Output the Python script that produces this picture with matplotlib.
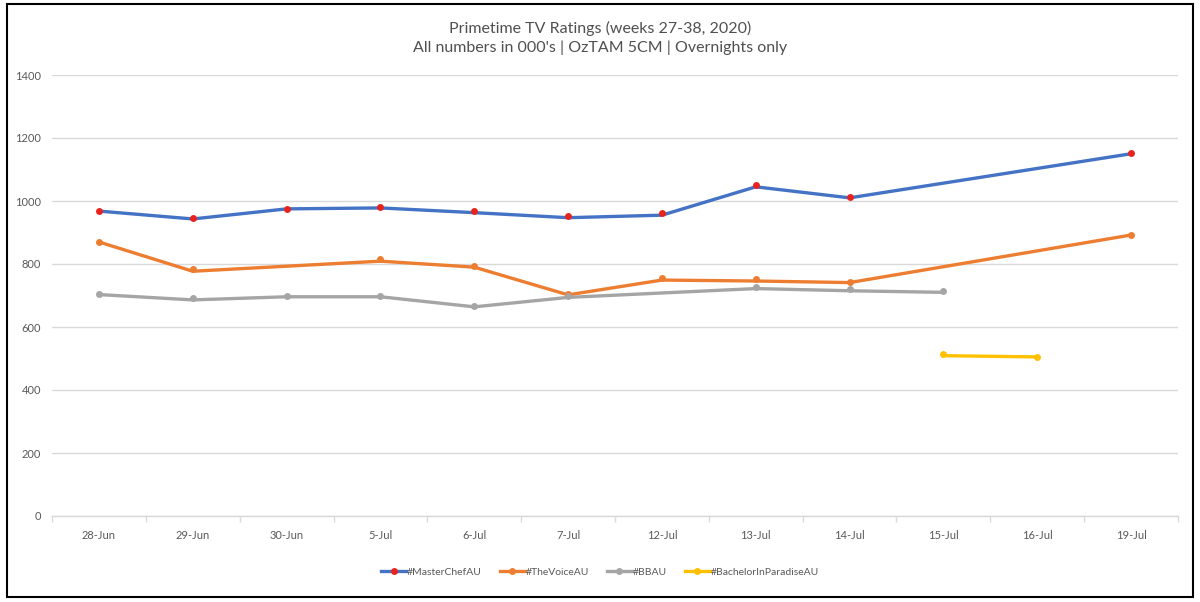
import numpy as np
import matplotlib.pyplot as plt
from matplotlib.patches import Rectangle
from matplotlib.lines import Line2D

nan = np.nan

dates = ["28-Jun", "29-Jun", "30-Jun", "5-Jul", "6-Jul", "7-Jul",
         "12-Jul", "13-Jul", "14-Jul", "15-Jul", "16-Jul", "19-Jul"]

# marker values
masterchef_pts = [968, 946, 976, 980, 967, 951, 961, 1051, 1012, nan, nan, 1153]
voice_pts = [870, 783, nan, 815, 795, 705, 756, 751, 744, nan, nan, 893]
bb_pts = [704, 692, 699, 699, 668, 698, nan, 728, 720, 715, nan, nan]
bachelor_pts = [nan, nan, nan, nan, nan, nan, nan, nan, nan, 513, 506, nan]

# line values (the drawn line sits slightly below the dots)
masterchef_line = [968, 943, 975, 978, 963, 947, 955, 1045, 1010, nan, nan, 1150]
voice_line = [870, 777, nan, 809, 790, 702, 749, 746, 741, nan, nan, 892]
bb_line = [703, 686, 696, 696, 664, 694, nan, 722, 715, 710, nan, nan]
bachelor_line = [nan, nan, nan, nan, nan, nan, nan, nan, nan, 509, 505, nan]

series = [
    ("#MasterChefAU", masterchef_line, masterchef_pts, "#4472C4", "#E8231E"),
    ("#TheVoiceAU", voice_line, voice_pts, "#ED7D31", "#ED7D31"),
    ("#BBAU", bb_line, bb_pts, "#A5A5A5", "#A5A5A5"),
    ("#BachelorInParadiseAU", bachelor_line, bachelor_pts, "#FFC000", "#FFC000"),
]

plt.rcParams["font.family"] = ["Lato", "DejaVu Sans"]

fig = plt.figure(figsize=(12, 6.02), dpi=100)
ax = fig.add_axes([52 / 1200, 1 - 516 / 602, 1126 / 1200, 441 / 602])

x = np.arange(len(dates))
handles = []
for name, line_vals, pts, lc, mc in series:
    lv = np.asarray(line_vals, dtype=float)
    pv = np.asarray(pts, dtype=float)
    ok = ~np.isnan(lv)
    ax.plot(x[ok], lv[ok], color=lc, lw=2.4, solid_capstyle="round",
            solid_joinstyle="round", zorder=3)
    okp = ~np.isnan(pv)
    ax.plot(x[okp], pv[okp], ls="none", marker="o", ms=5, color=mc,
            markeredgewidth=0, zorder=4)
    handles.append(Line2D([], [], color=lc, lw=2.4, marker="o", ms=5,
                          markerfacecolor=mc, markeredgewidth=0, label=name))

ax.set_xlim(-0.5, len(dates) - 0.5)
ax.set_ylim(0, 1400)
ax.set_yticks(np.arange(0, 1401, 200))
ax.grid(axis="y", color="#D9D9D9", lw=1)
ax.set_axisbelow(True)

ax.set_xticks(x)
ax.set_xticklabels(dates)
ax.set_xticks(np.arange(-0.5, len(dates)), minor=True)
ax.tick_params(axis="x", which="major", length=0, pad=10, labelsize=8, labelcolor="#595959")
ax.tick_params(axis="x", which="minor", length=4, color="#D9D9D9", width=1)
ax.tick_params(axis="y", length=0, pad=8, labelsize=8, labelcolor="#595959")

for side in ["top", "right", "left"]:
    ax.spines[side].set_visible(False)
ax.spines["bottom"].set_color("#D9D9D9")
ax.spines["bottom"].set_linewidth(1)

fig.text(0.5, 1 - 28 / 602, "Primetime TV Ratings (weeks 27-38, 2020)", ha="center",
         va="center", fontsize=11.5, color="#505050")
fig.text(0.5, 1 - 48 / 602, "All numbers in 000's | OzTAM 5CM | Overnights only", ha="center",
         va="center", fontsize=11.5, color="#505050")

fig.legend(handles=handles, loc="center", bbox_to_anchor=(0.5, 1 - 572 / 602), ncol=4,
           frameon=False, fontsize=7.5, handlelength=2.4, handletextpad=0.1, columnspacing=1.7,
           labelcolor="#595959")

fig.patches.append(Rectangle((0.006, 0.008), 0.988, 0.986, transform=fig.transFigure,
                             fill=False, edgecolor="black", lw=1.5))

fig.savefig("out.png", dpi=100)
